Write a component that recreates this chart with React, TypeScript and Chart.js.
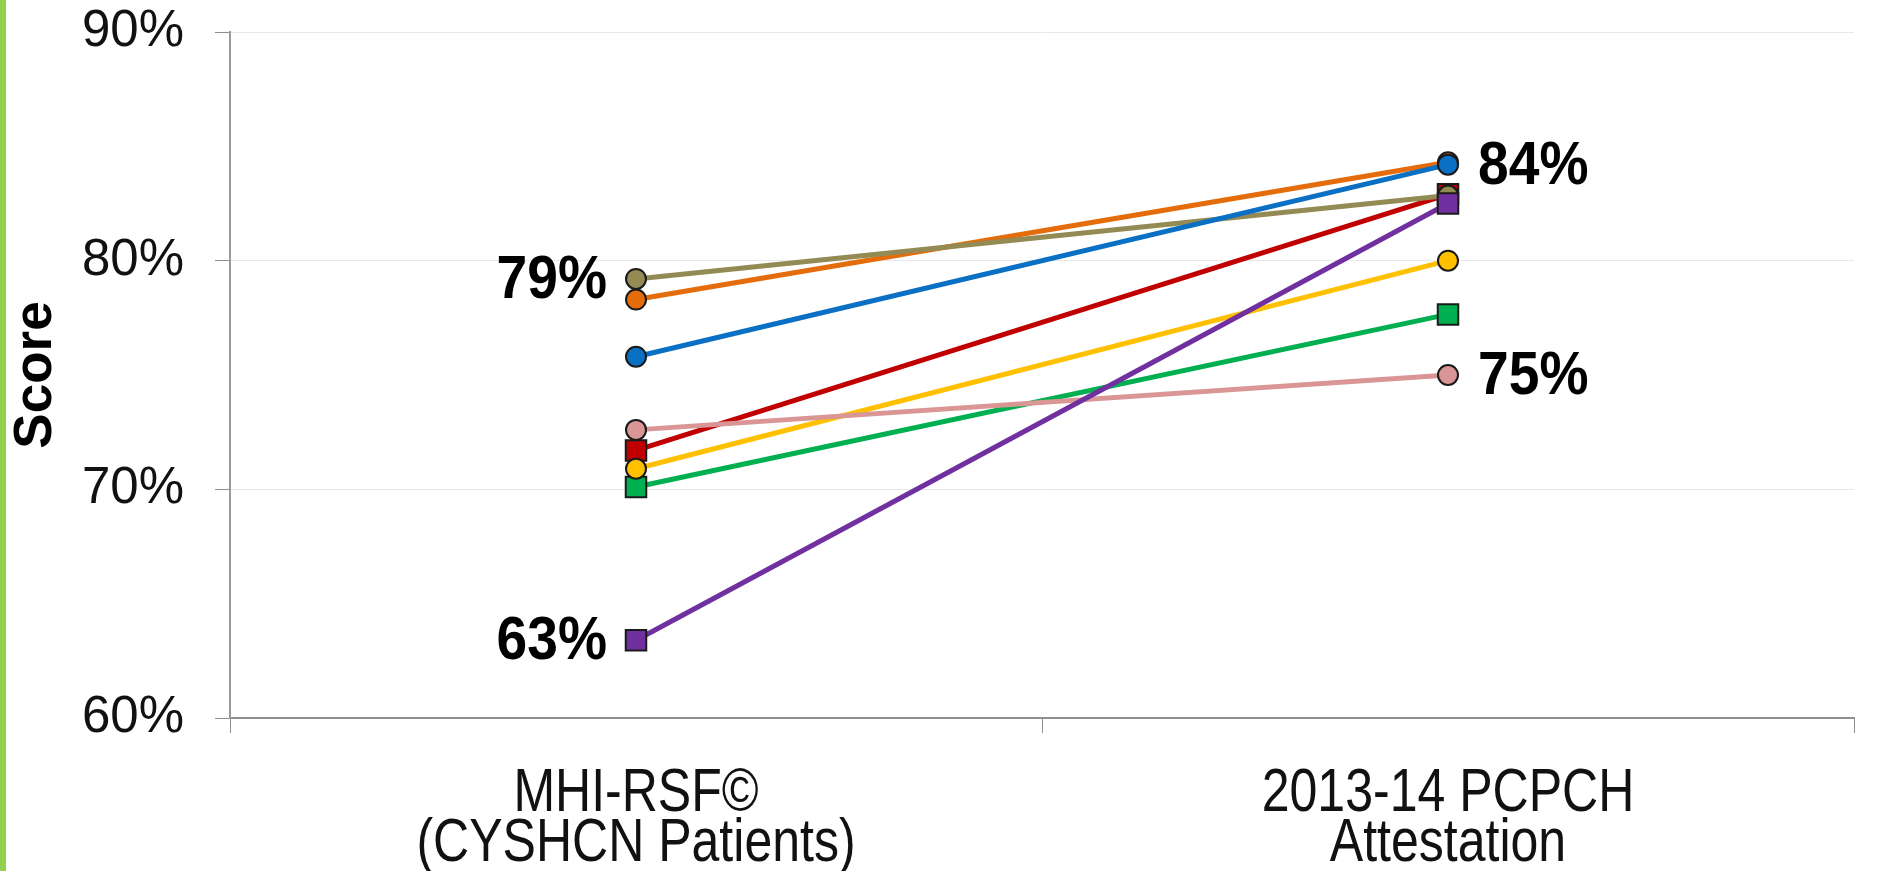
import React, { useEffect, useRef } from "react";
import { Chart, registerables } from "chart.js";

Chart.register(...registerables);

// ---- Data ----
const categories: string[][] = [
  ["MHI-RSF©", "(CYSHCN Patients)"],
  ["2013-14 PCPCH", "Attestation"],
];
const yMin = 60;
const yMax = 90;
const yStep = 10;

// series values (score %, [MHI-RSF, PCPCH attestation])
const purpleValues = [63.4, 82.5];
const blueValues = [75.8, 84.2];
const oliveValues = [79.2, 82.85];
const pinkValues = [72.6, 75.0];
const yellowValues = [70.9, 80.0];
const greenValues = [70.1, 77.65];
const redValues = [71.7, 82.9];
const orangeValues = [78.3, 84.3];

// drawing order: first entry ends on top
const seriesNames = ["Purple", "Blue", "Olive", "Pink", "Yellow", "Green", "Red", "Orange"];
const seriesValues = [purpleValues, blueValues, oliveValues, pinkValues, yellowValues, greenValues, redValues, orangeValues];
const seriesColors = ["#7030A0", "#0A70C4", "#948A54", "#D99694", "#FFC000", "#00B050", "#C00000", "#E46C0A"];
const seriesShapes = ["rect", "circle", "circle", "circle", "circle", "rect", "rect", "circle"];

// value annotations: [series name, point index, side]
const valueLabels: [string, number, "left" | "right"][] = [
  ["Olive", 0, "left"],
  ["Purple", 0, "left"],
  ["Blue", 1, "right"],
  ["Pink", 1, "right"],
];

const greenBarPlugin = {
  id: "greenBar",
  beforeDraw(chart: any) {
    const ctx = chart.ctx;
    ctx.save();
    ctx.fillStyle = "#ffffff";
    ctx.fillRect(0, 0, chart.width, chart.height);
    ctx.fillStyle = "#92D050";
    ctx.fillRect(0, 0, 6, chart.height);
    ctx.restore();
  },
};

// category labels drawn with a condensed horizontal scale
const xLabelPlugin = {
  id: "xLabels",
  afterDraw(chart: any) {
    const ctx = chart.ctx;
    const xs = chart.scales.x;
    const base = chart.chartArea.bottom;
    ctx.save();
    ctx.font = "61px 'Liberation Sans', Arial, sans-serif";
    ctx.fillStyle = "#111111";
    ctx.textAlign = "center";
    ctx.textBaseline = "middle";
    categories.forEach((lines, i) => {
      const x = xs.getPixelForValue(i);
      lines.forEach((line, j) => {
        ctx.save();
        ctx.translate(x, base + 76 + j * 50);
        ctx.scale(0.82, 1);
        ctx.fillText(line, 0, 0);
        ctx.restore();
      });
    });
    ctx.restore();
  },
};

const valueLabelPlugin = {
  id: "valueLabels",
  afterDatasetsDraw(chart: any) {
    const ctx = chart.ctx;
    ctx.save();
    ctx.font = "bold 62px 'Liberation Sans', Arial, sans-serif";
    ctx.fillStyle = "#000000";
    ctx.textBaseline = "middle";
    for (const [name, idx, side] of valueLabels) {
      const dsIndex = seriesNames.indexOf(name);
      const meta = chart.getDatasetMeta(dsIndex);
      const pt = meta.data[idx];
      const v = seriesValues[dsIndex][idx];
      const text = Math.round(v) + "%";
      ctx.save();
      if (side === "left") {
        ctx.translate(pt.x - 29, pt.y + 2);
        ctx.textAlign = "right";
      } else {
        ctx.translate(pt.x + 30, pt.y + 2);
        ctx.textAlign = "left";
      }
      ctx.scale(0.89, 1);
      ctx.fillText(text, 0, 0);
      ctx.restore();
    }
    ctx.restore();
  },
};

export default function App() {
  const ref = useRef<HTMLCanvasElement | null>(null);

  useEffect(() => {
    if (!ref.current) return;
    const datasets = seriesNames.map((name, i) => ({
      label: name,
      data: seriesValues[i],
      borderColor: seriesColors[i],
      backgroundColor: seriesColors[i],
      pointBackgroundColor: seriesColors[i],
      pointBorderColor: "#1a1a1a",
      pointBorderWidth: 2,
      pointStyle: seriesShapes[i],
      pointRadius: seriesShapes[i] === "rect" ? 14.5 : 10,
      borderWidth: 5,
      fill: false,
      tension: 0,
    }));

    const chart = new Chart(ref.current, {
      type: "line",
      data: { labels: categories as any, datasets: datasets as any },
      options: {
        responsive: false,
        animation: false,
        devicePixelRatio: 1,
        layout: { padding: { top: 32, right: 23, bottom: 0, left: 0 } },
        plugins: {
          legend: { display: false },
          tooltip: { enabled: false },
        },
        scales: {
          x: {
            type: "category",
            offset: true,
            grid: {
              offset: true,
              drawOnChartArea: false,
              tickLength: 15,
              color: "#8f8f8f",
              lineWidth: 1,
            },
            border: { color: "#8f8f8f", width: 2 },
            ticks: {
              color: "rgba(0,0,0,0)",
              padding: 34,
              maxRotation: 0,
              autoSkip: false,
              font: { family: "'Liberation Sans', sans-serif", size: 20 },
            },
            afterFit: (s: any) => {
              s.height = 153;
              s.paddingLeft = 0;
              s.paddingRight = 0;
            },
          },
          y: {
            min: yMin,
            max: yMax,
            ticks: {
              stepSize: yStep,
              color: "#111111",
              padding: 31,
              font: { family: "'Liberation Sans', Arial, sans-serif", size: 51 },
              callback: (v: any) => v + "%",
            },
            grid: {
              color: "#e9e9e9",
              lineWidth: 1,
              tickColor: "#8f8f8f",
              tickLength: 15,
            },
            border: { color: "#9a9a9a", width: 2 },
            title: {
              display: true,
              text: "Score",
              color: "#000000",
              font: { family: "'Liberation Sans', Arial, sans-serif", size: 53, weight: "bold", lineHeight: 1.2 },
              padding: { top: 5, bottom: 0 },
            },
            afterFit: (s: any) => {
              s.width = 230;
              s.paddingTop = 0;
              s.paddingBottom = 0;
            },
          },
        },
      },
      plugins: [greenBarPlugin, valueLabelPlugin, xLabelPlugin],
    } as any);

    return () => chart.destroy();
  }, []);

  return (
    <div style={{ position: "absolute", left: 0, top: 0, width: 1877, height: 871, background: "#fff" }}>
      <canvas ref={ref} width={1877} height={871} style={{ display: "block", width: 1877, height: 871 }} />
    </div>
  );
}
